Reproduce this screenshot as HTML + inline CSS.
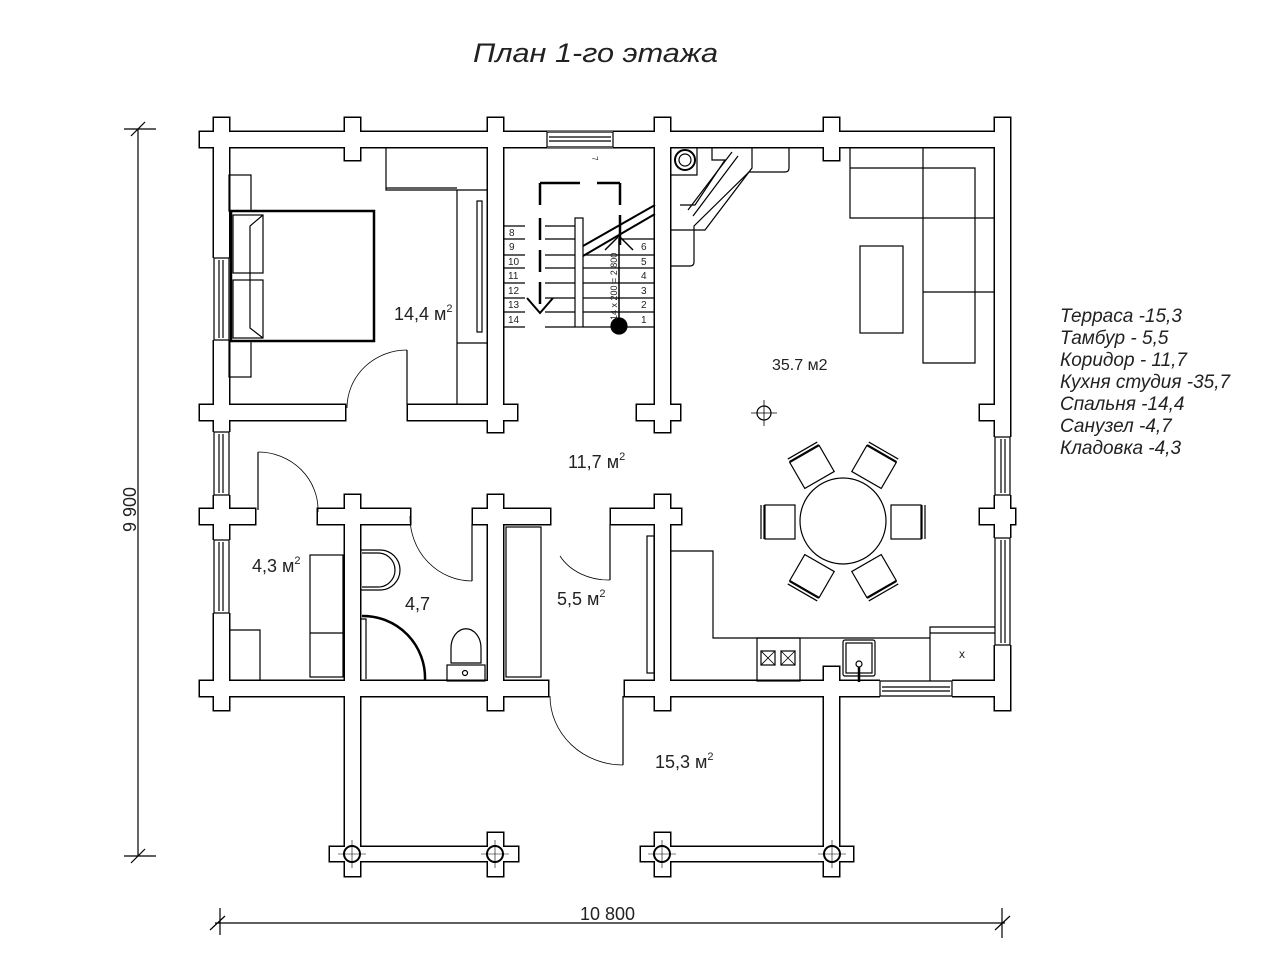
<!DOCTYPE html>
<html><head><meta charset="utf-8"><style>
html,body{margin:0;padding:0;background:#fff;width:1280px;height:960px;overflow:hidden}
svg{display:block}
text{font-family:"Liberation Sans","DejaVu Sans",sans-serif;fill:#222}
</style></head><body>
<svg width="1280" height="960" viewBox="0 0 1280 960" xmlns="http://www.w3.org/2000/svg">
<defs>
<g id="walls">
<rect x="200" y="132" width="810" height="15"/>
<rect x="200" y="405" width="145" height="15"/>
<rect x="408" y="405" width="109" height="15"/>
<rect x="637" y="405" width="43" height="15"/>
<rect x="980" y="405" width="30" height="15"/>
<rect x="200" y="509" width="55" height="15"/>
<rect x="318" y="509" width="92" height="15"/>
<rect x="473" y="509" width="77" height="15"/>
<rect x="611" y="509" width="70" height="15"/>
<rect x="980" y="509" width="35" height="15"/>
<rect x="200" y="681" width="348" height="15"/>
<rect x="625" y="681" width="385" height="15"/>
<rect x="330" y="847" width="188" height="14"/>
<rect x="641" y="847" width="212" height="14"/>
<rect x="214" y="118" width="15" height="592"/>
<rect x="345" y="118" width="15" height="42"/>
<rect x="488" y="118" width="15" height="314"/>
<rect x="655" y="118" width="15" height="314"/>
<rect x="824" y="118" width="15" height="42"/>
<rect x="995" y="118" width="15" height="592"/>
<rect x="345" y="495" width="15" height="381"/>
<rect x="488" y="495" width="15" height="215"/>
<rect x="655" y="495" width="15" height="215"/>
<rect x="824" y="667" width="15" height="209"/>
<rect x="488" y="833" width="15" height="43"/>
<rect x="655" y="833" width="15" height="43"/>
</g>
<g id="chair" fill="none" stroke="#000" stroke-width="1.2"><rect x="-15" y="-17" width="30" height="34"/><path d="M-19 -17V17M-16 -17V17"/></g>
</defs>
<text x="473" y="62" font-size="27" font-style="italic" textLength="245" lengthAdjust="spacingAndGlyphs">План 1-го этажа</text>

<use href="#walls" fill="none" stroke="#000" stroke-width="3"/>
<use href="#walls" fill="#fff" stroke="none"/>

<g fill="none" stroke="#000" stroke-width="1.2">
<g fill="#fff">
<rect x="547" y="131" width="66" height="17" stroke="none"/>
<rect x="212" y="258" width="19" height="82" stroke="none"/>
<rect x="212" y="432" width="19" height="63" stroke="none"/>
<rect x="212" y="540" width="19" height="73" stroke="none"/>
<rect x="993" y="437" width="19" height="58" stroke="none"/>
<rect x="993" y="538" width="19" height="107" stroke="none"/>
<rect x="880" y="679" width="72" height="19" stroke="none"/>
</g>
<path d="M547 132H613M547 147H613M547 132V147M613 132V147M549 137H611M549 141H611"/>
<path d="M214 258V340M229 258V340M214 258H229M214 340H229M219 260V338M223 260V338"/>
<path d="M214 432V495M229 432V495M214 432H229M214 495H229M219 434V493M223 434V493"/>
<path d="M214 540V613M229 540V613M214 540H229M214 613H229M219 542V611M223 542V611"/>
<path d="M995 437V495M1010 437V495M995 437H1010M995 495H1010M1001 439V493M1005 439V493"/>
<path d="M995 538V645M1010 538V645M995 538H1010M995 645H1010M1001 540V643M1005 540V643"/>
<path d="M880 681H952M880 696H952M880 681V696M952 681V696M882 687H950M882 691H950"/>

<rect x="229" y="175" width="22" height="36"/>
<rect x="229" y="341" width="22" height="36"/>
<rect x="231" y="211" width="143" height="130" stroke-width="2.5"/>
<rect x="233" y="215" width="30" height="58"/>
<rect x="233" y="280" width="30" height="58"/>
<path d="M263 215L250 226V328L263 338"/>
<path d="M386 147V190H457V405M386 188H457M457 190H488M457 343H488"/>
<rect x="477" y="201" width="5" height="131"/>
<path d="M407 405V350"/>
<path d="M407 350A60 58 0 0 0 347 408" stroke-width="0.8"/>

<path d="M503 226H525M503 239H525M503 255H525M503 268H525M503 283H525M503 298H525M503 312H525M503 327H525"/>
<path d="M545 226H575M545 239H575M545 255H575M545 268H575M545 283H575M545 298H575M545 312H575M545 327H575"/>
<rect x="575" y="218" width="8" height="109"/>
<path d="M583 255H655M583 268H655M583 283H655M583 298H655M583 312H655M583 327H655M620 239H655"/>
<path d="M583 256L655 214M583 246L655 205" stroke-width="2"/>
<path d="M540 183H580M597 183H620M540 183V205M620 183V205M620 215V245M540 218V240M540 250V272M540 282V304" stroke-width="2.5"/>
<path d="M527 298L540 313L553 298" stroke-width="2"/>
<path d="M619 238V326M605 250L619 236L633 250" stroke-width="1.5"/>
<circle cx="619" cy="326" r="8" fill="#000"/>
</g>
<g font-size="10">
<text x="509" y="236">8</text><text x="509" y="250">9</text><text x="508" y="265">10</text><text x="508" y="279">11</text><text x="508" y="294">12</text><text x="508" y="308">13</text><text x="508" y="323">14</text>
<text x="641" y="250">6</text><text x="641" y="265">5</text><text x="641" y="279">4</text><text x="641" y="294">3</text><text x="641" y="308">2</text><text x="641" y="323">1</text>
<text x="0" y="0" transform="translate(592,157) rotate(80)" font-size="8">7</text>
<text x="0" y="0" transform="translate(617,320) rotate(-90)" font-size="9">14 x 200 = 2 800</text>
</g>

<g fill="none" stroke="#000" stroke-width="1.2">
<circle cx="685" cy="160" r="10" stroke-width="2"/>
<circle cx="685" cy="160" r="6"/>
<path d="M670 175H697V147"/>
<path d="M712 147V160H725L695 205H680"/>
<path d="M752 147V168L705 230H670"/>
<path d="M789 147V168Q789 172 785 172H749L694 226V262Q694 266 690 266H670"/>
<path d="M732 152L688 210M738 156L693 216"/>
<path d="M850 147V218H923M850 168H975V363H923V147M923 218H995M923 292H995"/>
<rect x="860" y="246" width="43" height="87"/>
<circle cx="764" cy="413" r="7"/>
<path d="M764 400V426M751 413H777" stroke-width="0.8"/>
<circle cx="843" cy="521" r="43"/>
<use href="#chair" transform="translate(780,522)"/>
<use href="#chair" transform="translate(906,522) rotate(180)"/>
<use href="#chair" transform="translate(812,467) rotate(60)"/>
<use href="#chair" transform="translate(874,467) rotate(120)"/>
<use href="#chair" transform="translate(812,576) rotate(-60)"/>
<use href="#chair" transform="translate(874,576) rotate(-120)"/>
<path d="M670 551H713V638H930"/>
<rect x="757" y="638" width="43" height="43"/>
<rect x="761" y="651" width="14" height="14"/><rect x="781" y="651" width="14" height="14"/>
<path d="M761 651L775 665M775 651L761 665M781 651L795 665M795 651L781 665" stroke-width="0.8"/>
<rect x="843" y="640" width="32" height="36" rx="2"/>
<rect x="846" y="643" width="26" height="30"/>
<circle cx="859" cy="664" r="3"/>
<path d="M859 667V682" stroke-width="2.5"/>
<path d="M930 681V627H995M930 633H995"/>
<text x="959" y="658" font-size="12" stroke="none" fill="#222">x</text>
<rect x="647" y="536" width="7" height="137"/>
<rect x="506" y="527" width="35" height="150"/>
<rect x="310" y="555" width="33" height="122"/>
<path d="M310 633H343"/>
<path d="M229 630H260V681"/>
<path d="M258 510V452" stroke-width="1.2"/>
<path d="M258 452A60 58 0 0 1 318 512" stroke-width="0.8"/>
<path d="M360 550H380A20 20 0 0 1 380 590H360"/>
<path d="M362 553H378A17 17 0 0 1 378 587H362"/>
<path d="M362 616A62 62 0 0 1 425 680" stroke-width="2.5"/>
<path d="M360 619H366V679"/>
<path d="M451 663V648A14 18 0 0 1 481 648V663Z"/>
<rect x="447" y="665" width="38" height="16"/>
<circle cx="465" cy="673" r="2.5"/>
<path d="M472 524V581"/>
<path d="M410 516A62 64 0 0 0 472 581" stroke-width="0.8"/>
<path d="M610 524V580"/>
<path d="M560 556A55 45 0 0 0 610 580" stroke-width="0.8"/>
<path d="M623 696V765"/>
<path d="M550 696A73 69 0 0 0 623 765" stroke-width="0.8"/>
<g stroke-width="2">
<circle cx="352" cy="854" r="8"/><circle cx="495" cy="854" r="8"/><circle cx="662" cy="854" r="8"/><circle cx="832" cy="854" r="8"/>
</g>
<path d="M352 840V868M338 854H366M495 840V868M481 854H509M662 840V868M648 854H676M832 840V868M818 854H846" stroke-width="0.6"/>
<path d="M138 129V856M124 129H156M124 856H156M131 136L145 122M131 863L145 849"/>
<path d="M215 923H1005M220 908V935M1002 908V938M210 930L225 916M995 930L1010 916"/>
</g>

<g font-size="18">
<text x="394" y="320">14,4 м<tspan font-size="11" dy="-8">2</tspan></text>
<text x="568" y="468">11,7 м<tspan font-size="11" dy="-8">2</tspan></text>
<text x="252" y="572">4,3 м<tspan font-size="11" dy="-8">2</tspan></text>
<text x="405" y="610">4,7</text>
<text x="557" y="605">5,5 м<tspan font-size="11" dy="-8">2</tspan></text>
<text x="655" y="768">15,3 м<tspan font-size="11" dy="-8">2</tspan></text>
<text x="580" y="920">10 800</text>
</g>
<text x="772" y="370" font-size="16">35.7 м2</text>
<text x="0" y="0" font-size="18" transform="translate(136,532) rotate(-90)">9 900</text>
<g font-size="19" font-style="italic">
<text x="1060" y="322">Терраса -15,3</text>
<text x="1060" y="344">Тамбур - 5,5</text>
<text x="1060" y="366">Коридор - 11,7</text>
<text x="1060" y="388">Кухня студия -35,7</text>
<text x="1060" y="410">Спальня -14,4</text>
<text x="1060" y="432">Санузел -4,7</text>
<text x="1060" y="454">Кладовка -4,3</text>
</g>
</svg>
</body></html>
